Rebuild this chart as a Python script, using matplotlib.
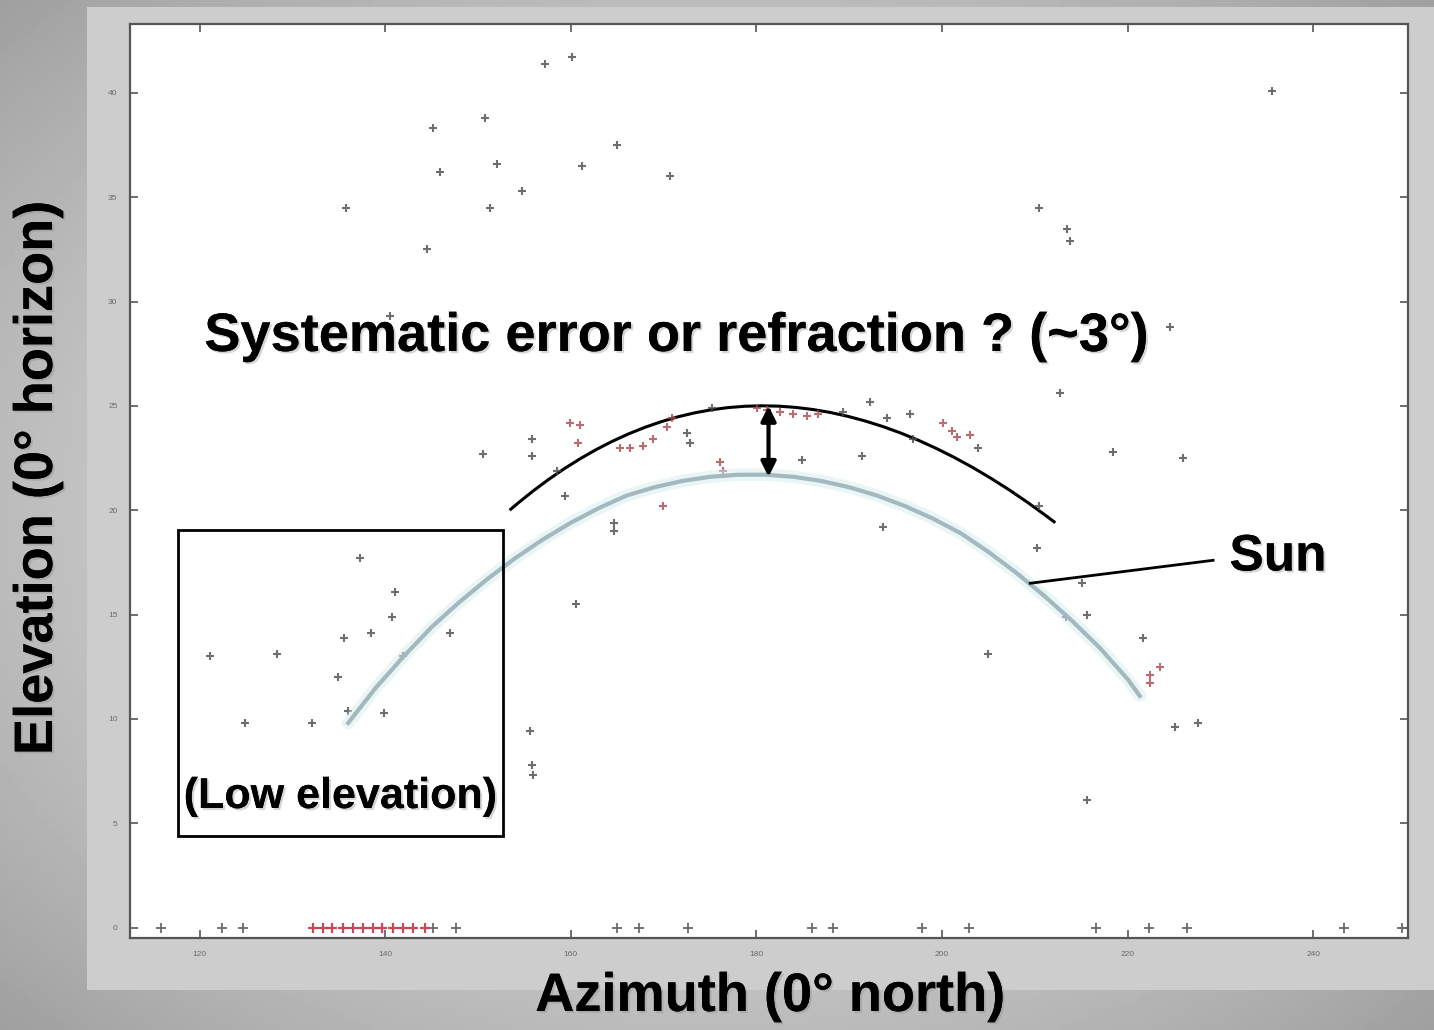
import matplotlib
matplotlib.use('Agg')
import matplotlib.pyplot as plt
import matplotlib.patheffects as pe
from matplotlib.patches import Rectangle, PathPatch
from matplotlib.path import Path
import numpy as np

plt.rcParams['font.family'] = ['Liberation Sans', 'DejaVu Sans']

# Detected positions, azimuth / elevation in degrees
black_az = [157.2, 160.1, 145.1, 150.7, 145.9, 152.0, 154.7, 151.3, 135.8, 144.5,
            140.5, 161.2, 165.0, 170.7, 210.4, 213.5, 213.8, 235.6, 224.6, 212.7,
            218.4, 226.0, 150.5, 155.8, 155.8, 158.5, 159.4, 172.5, 172.8, 175.2,
            184.9, 189.3, 192.2, 194.1, 196.5, 191.4, 196.9, 193.6, 164.7, 164.7,
            203.9, 210.4, 210.2, 215.1, 213.3, 215.6, 205.0, 221.6, 225.1, 227.6,
            160.6, 215.6, 137.3, 141.0, 140.7, 138.5, 135.6, 121.1, 128.3, 147.0,
            141.9, 134.9, 136.0, 139.9, 124.9, 132.1, 155.6, 155.8, 155.9]
black_el = [41.4, 41.7, 38.3, 38.8, 36.2, 36.6, 35.3, 34.5, 34.5, 32.5,
            29.3, 36.5, 37.5, 36.0, 34.5, 33.5, 32.9, 40.1, 28.8, 25.6,
            22.8, 22.5, 22.7, 23.4, 22.6, 21.9, 20.7, 23.7, 23.2, 24.9,
            22.4, 24.7, 25.2, 24.4, 24.6, 22.6, 23.4, 19.2, 19.4, 19.0,
            23.0, 20.2, 18.2, 16.5, 14.9, 15.0, 13.1, 13.9, 9.6, 9.8,
            15.5, 6.1, 17.7, 16.1, 14.9, 14.1, 13.9, 13.0, 13.1, 14.1,
            13.0, 12.0, 10.4, 10.3, 9.8, 9.8, 9.4, 7.8, 7.3]

red_az = [159.9, 161.0, 160.8, 165.3, 166.4, 167.8, 168.8, 170.4, 170.9, 176.1,
          176.4, 169.9, 180.1, 181.1, 182.5, 183.9, 185.4, 186.6, 200.1, 201.1,
          201.6, 203.0, 222.4, 222.4, 223.5]
red_el = [24.2, 24.1, 23.2, 23.0, 23.0, 23.1, 23.4, 24.0, 24.4, 22.3,
          21.9, 20.2, 24.9, 24.8, 24.7, 24.6, 24.5, 24.6, 24.2, 23.8,
          23.5, 23.6, 12.1, 11.7, 12.5]

# Detections lying on the horizon (elevation 0)
horizon_black_az = [115.8, 122.4, 124.7, 145.2, 147.6, 165.0, 167.3, 172.6, 186.0,
                    188.2, 197.8, 202.9, 216.6, 222.3, 226.4, 243.3, 249.6]
horizon_red_az = [132.2, 133.3, 134.3, 135.4, 136.5, 137.6, 138.7, 139.7, 140.8,
                  141.9, 143.0, 144.3]

# Computed sun track
sun_az = [136.0, 139.0, 142.0, 145.0, 148.0, 151.0, 154.0, 157.0, 160.0, 163.0,
          166.0, 169.0, 172.0, 175.0, 178.0, 181.0, 184.0, 187.0, 190.0, 193.0,
          196.0, 199.0, 202.0, 205.0, 208.0, 211.0, 214.0, 217.0, 220.0, 221.3]
sun_el = [9.8, 11.5, 13.0, 14.4, 15.6, 16.7, 17.7, 18.6, 19.4, 20.1,
          20.7, 21.1, 21.4, 21.6, 21.7, 21.7, 21.6, 21.4, 21.1, 20.7,
          20.2, 19.6, 18.9, 18.0, 17.0, 15.9, 14.7, 13.4, 11.9, 11.1]

xticks = [120, 140, 160, 180, 200, 220, 240]
yticks = [0, 5, 10, 15, 20, 25, 30, 35, 40]

W, H = 1434, 1030
fig = plt.figure(figsize=(W / 100, H / 100), dpi=100)


def fx(px):
    return px / W


def fy(py):
    return 1 - py / H


# grey slide background with a soft radial gradient, plus the plot window frame
bg = fig.add_axes([0, 0, 1, 1], zorder=-2)
yy, xx = np.mgrid[0:1:200j, 0:1:200j]
r = np.sqrt(((xx - 0.5) / 0.7) ** 2 + ((yy - 0.5) / 0.7) ** 2)
bg.imshow(0.88 - 0.25 * r ** 1.6, cmap='gray', vmin=0, vmax=1,
          extent=[0, 1, 0, 1], aspect='auto')
bg.add_patch(Rectangle((fx(87), fy(990)), 1 - fx(87), fy(7) - fy(990),
                       facecolor='#cdcdcd', edgecolor='none'))
bg.set_xlim(0, 1)
bg.set_ylim(0, 1)
bg.set_axis_off()

ax = fig.add_axes([fx(130), fy(938), fx(1408) - fx(130), fy(24) - fy(938)], zorder=1)
ax.set_facecolor('white')

ax.plot(black_az, black_el, '+', color='#4a4a4a', ms=6, mew=1.5, alpha=0.8)
ax.plot(red_az, red_el, '+', color='#a84850', ms=6, mew=1.5, alpha=0.8)
ax.plot(horizon_black_az, [0] * len(horizon_black_az), '+', color='#6a6a6a', ms=7, mew=1.3)
ax.plot(horizon_red_az, [0] * len(horizon_red_az), '+', color='#c84858', ms=7, mew=1.6)

# sun track with a soft glow
ax.plot(sun_az, sun_el, color='#d6eeee', lw=9, alpha=0.5, solid_capstyle='round')
ax.plot(sun_az, sun_el, color='#a4b8c0', lw=3, solid_joinstyle='round')

# offset arc drawn above the sun track
arc = Path([(153.4, 20.0), (180.2, 30.3), (212.2, 19.4)],
           [Path.MOVETO, Path.CURVE3, Path.CURVE3])
ax.add_patch(PathPatch(arc, facecolor='none', edgecolor='black', lw=2.2))
ax.annotate('', xy=(181.3, 21.6), xytext=(181.3, 25.0),
            arrowprops=dict(arrowstyle='<|-|>', lw=3, color='black', mutation_scale=22,
                            shrinkA=0, shrinkB=0))

# leader line to the sun label
ax.plot([209.5, 229.2], [16.5, 17.6], color='black', lw=2)

ax.set_xlim(112.5, 250.2)
ax.set_ylim(-0.5, 43.3)
ax.set_xticks(xticks)
ax.set_yticks(yticks)
ax.tick_params(direction='in', top=True, right=True, length=6, width=1.2,
               color='#555555', labelsize=6, labelcolor='#6a6a6a', pad=9)
for s in ax.spines.values():
    s.set_color('#555555')
    s.set_linewidth(1.6)

shadow = [pe.withSimplePatchShadow(offset=(1.5, -1.5), shadow_rgbFace='#888888', alpha=0.35),
          pe.Normal()]

fig.text(fx(676), fy(337), 'Systematic error or refraction ? (~3°)', fontsize=39,
         fontweight='bold', ha='center', va='center', path_effects=shadow, zorder=5)
fig.text(fx(1278), fy(557), 'Sun', fontsize=37, fontweight='bold',
         ha='center', va='center', path_effects=shadow, zorder=5)
fig.patches.append(Rectangle((fx(178), fy(836)), fx(503) - fx(178), fy(530) - fy(836),
                             transform=fig.transFigure, facecolor='none',
                             edgecolor='black', lw=2, zorder=5))
fig.text(fx(340), fy(797), '(Low elevation)', fontsize=31, fontweight='bold',
         ha='center', va='center', path_effects=shadow, zorder=5)
fig.text(fx(38), fy(478), 'Elevation (0° horizon)', fontsize=39, fontweight='bold',
         rotation=90, ha='center', va='center', path_effects=shadow, zorder=5)
fig.text(fx(770), fy(997), 'Azimuth (0° north)', fontsize=39, fontweight='bold',
         ha='center', va='center', path_effects=shadow, zorder=5)

fig.savefig('out.png', dpi=100)
